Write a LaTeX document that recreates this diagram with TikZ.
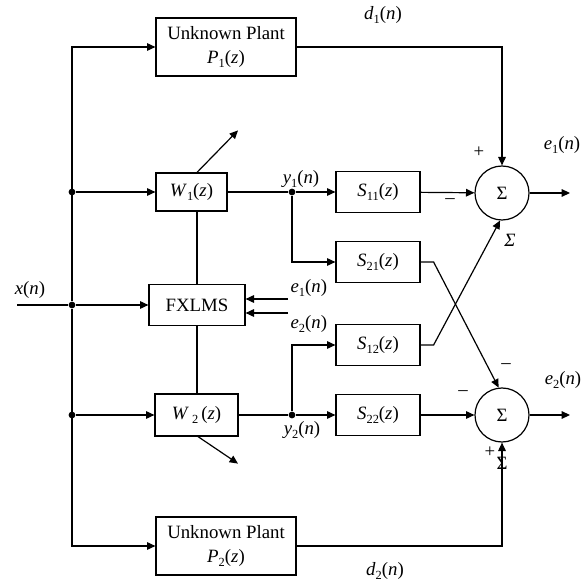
\documentclass[tikz,border=0pt]{standalone}
\usepackage{fontspec}
\setmainfont{Liberation Serif}
\usetikzlibrary{positioning,arrows.meta,calc}
\newcommand{\lsub}[1]{\raisebox{-0.45ex}{\fontsize{6.2}{6.2}\selectfont #1}}
\newcommand{\sig}[2]{\textit{#1}\lsub{#2}(\textit{n})}
\newcommand{\tfn}[2]{\textit{#1}\lsub{#2}(\textit{z})}

\begin{document}
\begin{tikzpicture}[x=0.5pt, y=-0.5pt, line width=0.6pt,
  font=\fontsize{9.4}{12}\selectfont,
  blk/.style={draw, inner sep=0pt, align=center},
  sblk/.style={blk, minimum width=42pt, minimum height=20.5pt},
  sumnode/.style={draw, circle, minimum size=27pt, inner sep=0pt},
  dot/.style={circle, fill, inner sep=0pt, minimum size=3.4pt},
  lbl/.style={inner sep=1pt},
  >={Triangle[length=4.2pt, width=3.8pt]}]
\useasboundingbox (0,0) rectangle (588,582);
% blocks
\node[blk, minimum width=70pt, minimum height=29pt] (plant1) at (226,47) {Unknown Plant\\\tfn{P}{1}};
\node[blk, minimum width=35.5pt, minimum height=19pt] (W1) at (191.5,192) {\tfn{W}{1}};
\node[blk, minimum width=48pt, minimum height=20.5pt] (FX) at (197,305) {FXLMS};
\node[blk, minimum width=41.5pt, minimum height=21pt] (W2) at (196.5,415) {\textit{W}\,\lsub{2}\,(\textit{z})};
\node[blk, minimum width=70pt, minimum height=29pt] (plant2) at (226,546) {Unknown Plant\\\tfn{P}{2}};
\node[sblk] (S11) at (378,192) {\tfn{S}{11}};
\node[sblk] (S21) at (378,262) {\tfn{S}{21}};
\node[sblk] (S12) at (378,345) {\tfn{S}{12}};
\node[sblk] (S22) at (378,415) {\tfn{S}{22}};
\node[sumnode] (sum1) at (502,193) {Σ};
\node[sumnode] (sum2) at (502,415) {Σ};
% junctions and free ends
\node[dot] (jx) at (72,305) {};
\node[dot] (j1) at (72,192) {};
\node[dot] (j2) at (72,415) {};
\node[dot] (y1dot) at (292,192) {};
\node[dot] (y2dot) at (292,415) {};
\coordinate (xin) at (17,305);
\coordinate (e1in) at (288,299);
\coordinate (e2in) at (288,313);
\coordinate (out1) at (570,193);
\coordinate (out2) at (570,415);
% reference input
\draw (xin) -- (jx);
\draw[->] (jx) -- (FX);
\draw[->] (jx) |- (plant1.west);
\draw[->] (jx) |- (plant2.west);
\draw[->] (j1) -- (W1);
\draw[->] (j2) -- (W2);
% adaptation
\draw (W1.south -| FX.north) -- (FX.north);
\draw (FX.south) -- (FX.south |- W2.north);
\draw[->] ($(W1.north)+(5.5,0)$) -- ++(41,-42);
\draw[->] ($(W2.south)+(1.5,0)$) -- ++(40,27);
\draw[->] (e1in) -- (e1in -| FX.east);
\draw[->] (e2in) -- (e2in -| FX.east);
% secondary paths
\draw (W1) -- (y1dot);
\draw[->] (y1dot) -- (S11);
\draw[->] (y1dot) |- (S21.west);
\draw (W2) -- (y2dot);
\draw[->] (y2dot) -- (S22);
\draw[->] (y2dot) |- (S12.west);
\draw[->] (S11) -- (sum1);
\draw[->] (S22) -- (sum2);
\draw[->] (S21.east) -- ++(13,0) -- (sum2.97);
\draw[->] (S12.east) -- ++(13,0) -- (sum1.-94);
\draw[->] (plant1.east) -| (sum1.north);
\draw[->] (plant2.east) -| (sum2.south);
\draw[->] (sum1) -- (out1);
\draw[->] (sum2) -- (out2);
% labels
\node[lbl] at (30,290) {\textit{x}(\textit{n})};
\node[lbl] at (383,15) {\sig{d}{1}};
\node[lbl] at (385,571) {\sig{d}{2}};
\node[lbl] at (301,179) {\sig{y}{1}};
\node[lbl] at (302,430) {\sig{y}{2}};
\node[lbl, anchor=south west] at (e1in) {\sig{e}{1}};
\node[lbl, anchor=north west] at (e2in) {\sig{e}{2}};
\node[lbl] at (562,145) {\sig{e}{1}};
\node[lbl] at (563,380) {\sig{e}{2}};
\node[lbl] at (479,152) {+};
\node[lbl] at (450,201) {--};
\node[lbl] at (510,240) {\textit{Σ}};
\node[lbl] at (506,366) {--};
\node[lbl] at (463,393) {--};
\node[lbl] at (490,452) {+};
\node[lbl] at (502,463) {Σ};
\end{tikzpicture}
\end{document}
